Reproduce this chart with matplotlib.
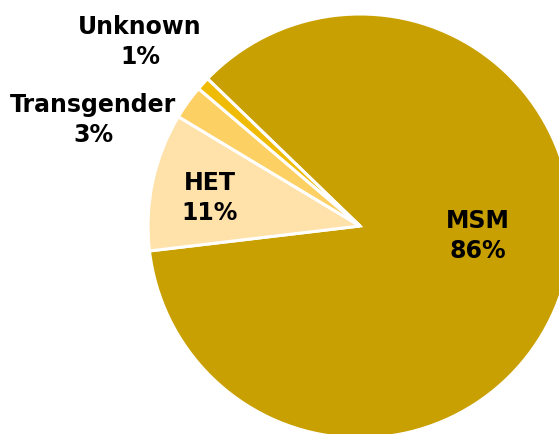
import matplotlib
matplotlib.use("Agg")
import matplotlib.pyplot as plt

categories = ["MSM", "HET", "Transgender", "Unknown"]
values = [85.9, 10.5, 2.6, 1.0]
pct_labels = ["86%", "11%", "3%", "1%"]
colors = ["#C9A002", "#FFE1AA", "#FDD063", "#F0BB05"]

W, H = 559, 435
fig = plt.figure(figsize=(W / 100, H / 100), dpi=100)
cx, cy, r = 360, 227, 212
ax = fig.add_axes([(cx - r) / W, (H - cy - r) / H, 2 * r / W, 2 * r / H])
ax.set_xlim(-1, 1)
ax.set_ylim(-1, 1)
ax.axis("off")

wedges, _ = ax.pie(values, colors=colors, startangle=136, counterclock=False,
                   radius=1.0, center=(0, 0), frame=False,
                   wedgeprops=dict(edgecolor="white", linewidth=2.2))
for w in wedges:
    w.set_clip_on(False)
ax.set_xlim(-1, 1)
ax.set_ylim(-1, 1)

# label positions in pixels (figure), converted to data units
label_px = [(478, 236), (210, 198), (93, 120), (140, 42)]
for cat, pct, (px, py) in zip(categories, pct_labels, label_px):
    x = (px - cx) / r
    y = (cy - py) / r
    ax.text(x, y, f"{cat}\n{pct}", ha="center", va="center", fontsize=17,
            fontweight="bold", family="DejaVu Sans", linespacing=1.3,
            color="black", clip_on=False)

fig.savefig("out.png", dpi=100)
